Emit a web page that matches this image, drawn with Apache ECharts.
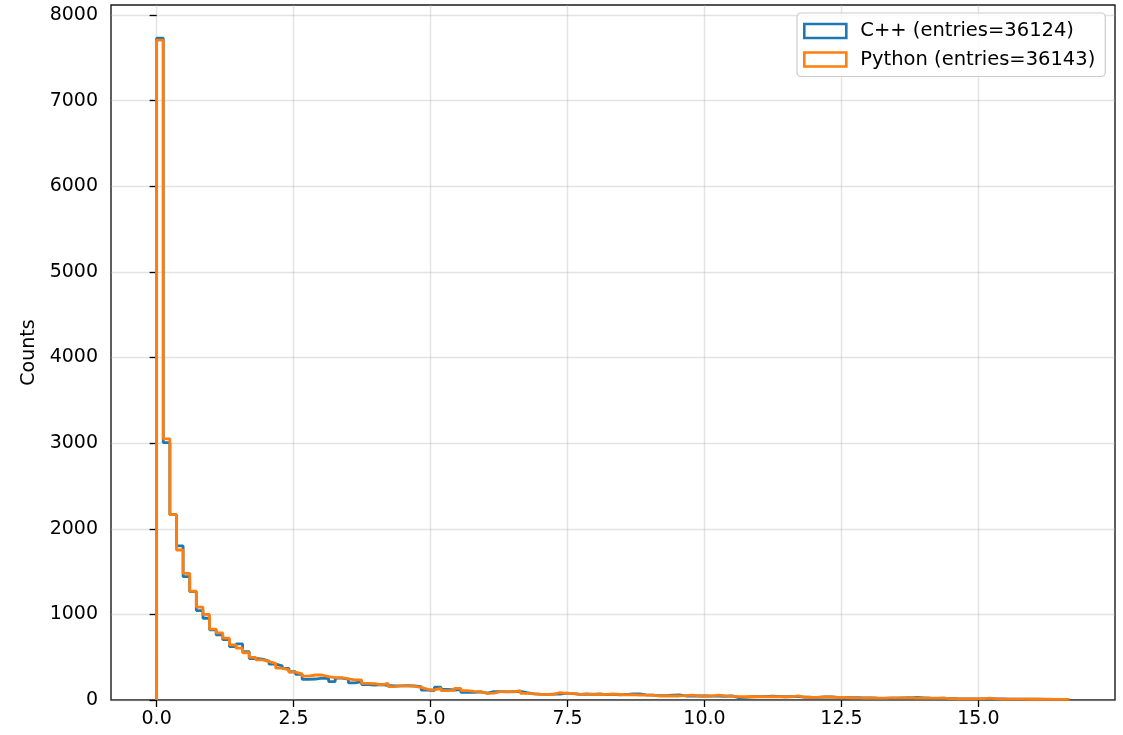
<!DOCTYPE html>
<html>
<head>
<meta charset="utf-8">
<script src="https://cdn.jsdelivr.net/npm/echarts@6/dist/echarts.min.js"></script>
<style>
  html, body { margin: 0; padding: 0; background: #fff; }
  #chart { width: 1123px; height: 735px; }
</style>
</head>
<body>
<div id="chart"></div>
<script>
// ---- data ----
const binRangeMin = 0;
const binRangeMax = 16.66;
const seriesNames = ['C++ (entries=36124)', 'Python (entries=36143)'];
const seriesColors = ['#1f77b4', '#ff7f0e'];
const cppCounts = [
  7731, 3005, 2165, 1800, 1440, 1265, 1045, 955, 820, 760,
  705, 625, 655, 565, 485, 478, 455, 418, 398, 370,
  330, 300, 242, 245, 255, 250, 215, 255, 245, 200,
  215, 180, 175, 180, 170, 165, 164, 168, 165, 155,
  115, 109, 150, 125, 117, 120, 88, 90, 95, 80,
  97, 97, 95, 98, 100, 85, 72, 68, 66, 68,
  70, 80, 74, 65, 70, 66, 70, 62, 66, 60,
  64, 72, 72, 60, 58, 50, 52, 58, 60, 47,
  47, 48, 47, 46, 45, 44, 47, 28, 30, 38,
  40, 39, 45, 42, 38, 39, 40, 34, 32, 31,
  35, 36, 30, 30, 28, 26, 24, 25, 22, 20,
  23, 22, 24, 26, 30, 26, 22, 20, 21, 17,
  15, 14, 13, 12, 12, 12, 13, 12, 11, 10,
  11, 10, 9, 9, 8, 8, 7, 7
];
const pyCounts = [
  7708, 3050, 2165, 1752, 1480, 1270, 1085, 1000, 828, 785,
  722, 645, 605, 552, 498, 468, 448, 428, 372, 352,
  325, 305, 280, 292, 292, 272, 262, 262, 248, 234,
  234, 195, 190, 176, 195, 156, 164, 164, 160, 148,
  125, 117, 136, 109, 112, 136, 110, 100, 97, 78,
  80, 97, 97, 95, 109, 78, 74, 66, 66, 66,
  85, 78, 78, 66, 66, 68, 64, 66, 70, 64,
  60, 62, 58, 58, 58, 47, 47, 48, 47, 50,
  58, 47, 47, 47, 58, 47, 46, 39, 38, 39,
  38, 36, 39, 38, 40, 36, 47, 32, 31, 30,
  37, 35, 31, 30, 26, 24, 23, 24, 23, 22,
  24, 24, 25, 24, 22, 23, 22, 21, 22, 16,
  14, 14, 13, 12, 16, 22, 12, 11, 10, 11,
  10, 9, 10, 8, 9, 8, 8, 7
];
const xTickValues = [0, 2.5, 5, 7.5, 10, 12.5, 15];
const yTickValues = [0, 1000, 2000, 3000, 4000, 5000, 6000, 7000, 8000];
const yAxisTitle = 'Counts';

// ---- build step outlines (histtype="step") ----
function stepData(counts) {
  const w = (binRangeMax - binRangeMin) / counts.length;
  const d = [[binRangeMin, 0]];
  counts.forEach((c, i) => d.push([binRangeMin + i * w, c]));
  d.push([binRangeMax, counts[counts.length - 1]]);
  d.push([binRangeMax, 0]);
  return d;
}
const span = binRangeMax - binRangeMin;
const xMinAxis = binRangeMin - 0.05 * span;
const xMaxAxis = binRangeMax + 0.05 * span;
const yMaxAxis = 1.05 * Math.max(Math.max(...cppCounts), Math.max(...pyCounts));

const FONT = 'DejaVu Sans';
const chart = echarts.init(document.getElementById('chart'), null, { renderer: 'canvas' });
chart.setOption({
  animation: false,
  backgroundColor: '#ffffff',
  textStyle: { fontFamily: FONT },
  grid: {
    left: 111, right: 8, top: 5, bottom: 35,
    show: true, borderColor: '#1a1a1a', borderWidth: 1.4, backgroundColor: 'transparent'
  },
  legend: {
    orient: 'vertical',
    left: 797, top: 13,
    padding: [8, 10, 7, 6],
    itemWidth: 42, itemHeight: 14, itemGap: 8.5,
    backgroundColor: 'rgba(255,255,255,0.85)',
    borderColor: '#cccccc', borderWidth: 1.2, borderRadius: 4,
    textStyle: { fontFamily: FONT, fontSize: 19.5, color: '#000', lineHeight: 14, padding: [0, 0, 0, 9] },
    data: seriesNames.map((n, i) => ({
      name: n, icon: 'rect',
      itemStyle: { color: '#ffffff', borderColor: seriesColors[i], borderWidth: 2.6 }
    }))
  },
  xAxis: {
    type: 'value', min: xMinAxis, max: xMaxAxis,
    axisLine: { show: false },
    axisTick: { show: true, customValues: xTickValues, length: 7, lineStyle: { color: '#000', width: 1.3 } },
    axisLabel: {
      customValues: xTickValues, margin: 10, fontSize: 19, color: '#000', fontFamily: FONT,
      formatter: v => Number(v).toFixed(1)
    },
    splitLine: { show: true, lineStyle: { color: 'rgba(176,176,176,0.35)', width: 1.4 } }
  },
  yAxis: {
    type: 'value', min: 0, max: yMaxAxis,
    name: yAxisTitle, nameLocation: 'middle', nameGap: 71,
    nameTextStyle: { fontSize: 19, color: '#000', fontFamily: FONT },
    axisLine: { show: false },
    axisTick: { show: true, customValues: yTickValues, length: 7, lineStyle: { color: '#000', width: 1.3 } },
    axisLabel: {
      customValues: yTickValues, margin: 13, fontSize: 19, color: '#000', fontFamily: FONT,
      formatter: v => String(Math.round(v))
    },
    splitLine: { show: true, lineStyle: { color: 'rgba(176,176,176,0.35)', width: 1.4 } }
  },
  series: [
    {
      name: seriesNames[0], type: 'line', step: 'end', showSymbol: false, symbol: 'none',
      data: stepData(cppCounts), clip: true,
      lineStyle: { color: seriesColors[0], width: 2.8 }, itemStyle: { color: seriesColors[0] }
    },
    {
      name: seriesNames[1], type: 'line', step: 'end', showSymbol: false, symbol: 'none',
      data: stepData(pyCounts), clip: true,
      lineStyle: { color: seriesColors[1], width: 2.8 }, itemStyle: { color: seriesColors[1] }
    }
  ]
});
</script>
</body>
</html>
